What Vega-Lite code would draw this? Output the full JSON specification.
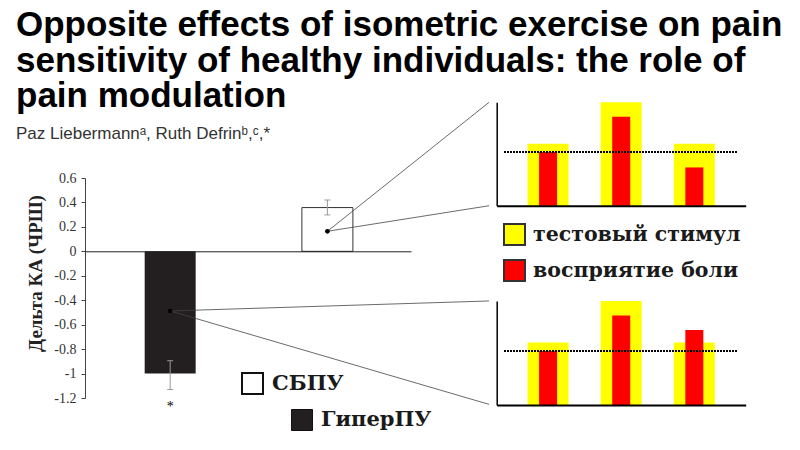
{
  "$schema": "https://vega.github.io/schema/vega-lite/v6.json",
  "width": 800,
  "height": 450,
  "autosize": "none",
  "padding": 0,
  "background": "white",
  "config": {"view": {"stroke": null}, "axis": {"grid": false}},
  "title": {
    "text": ["Opposite effects of isometric exercise on pain", "sensitivity of healthy individuals: the role of", "pain modulation"],
    "subtitle": "Paz Liebermannᵃ, Ruth Defrinᵇ,ᶜ,*",
    "anchor": "start",
    "frame": "group",
    "orient": "top",
    "offset": -142,
    "dx": 16,
    "font": "Liberation Sans",
    "fontSize": 35,
    "fontWeight": "bold",
    "lineHeight": 35.5,
    "color": "#000000",
    "subtitleFont": "Liberation Sans",
    "subtitleFontSize": 17,
    "subtitleColor": "#333333",
    "subtitlePadding": 12
  },
  "datasets": {
    "main": [
      {"group": "ГиперПУ", "i": 1, "delta": -1.0, "lo": -1.13, "hi": -0.895, "mid": -0.488, "sig": "*"},
      {"group": "СБПУ", "i": 2, "delta": 0.358, "lo": 0.298, "hi": 0.42, "mid": 0.164, "sig": ""}
    ],
    "links": [
      {"group": "СБПУ", "i": 2, "mid": 0.164, "i2": 3.028, "y2": 1.219},
      {"group": "СБПУ", "i": 2, "mid": 0.164, "i2": 3.028, "y2": 0.373},
      {"group": "ГиперПУ", "i": 1, "mid": -0.488, "i2": 3.028, "y2": -0.406},
      {"group": "ГиперПУ", "i": 1, "mid": -0.488, "i2": 3.028, "y2": -1.252}
    ],
    "inset": [
      {"panel": "СБПУ", "stim": 1, "measure": "тестовый стимул", "value": 6.0},
      {"panel": "СБПУ", "stim": 2, "measure": "тестовый стимул", "value": 10.0},
      {"panel": "СБПУ", "stim": 3, "measure": "тестовый стимул", "value": 6.0},
      {"panel": "СБПУ", "stim": 1, "measure": "восприятие боли", "value": 5.2},
      {"panel": "СБПУ", "stim": 2, "measure": "восприятие боли", "value": 8.6},
      {"panel": "СБПУ", "stim": 3, "measure": "восприятие боли", "value": 3.7},
      {"panel": "ГиперПУ", "stim": 1, "measure": "тестовый стимул", "value": 6.0},
      {"panel": "ГиперПУ", "stim": 2, "measure": "тестовый стимул", "value": 10.0},
      {"panel": "ГиперПУ", "stim": 3, "measure": "тестовый стимул", "value": 6.0},
      {"panel": "ГиперПУ", "stim": 1, "measure": "восприятие боли", "value": 5.2},
      {"panel": "ГиперПУ", "stim": 2, "measure": "восприятие боли", "value": 8.6},
      {"panel": "ГиперПУ", "stim": 3, "measure": "восприятие боли", "value": 7.2}
    ]
  },
  "layer": [
    {
      "data": {"name": "main"},
      "layer": [
        {
          "transform": [{"filter": "datum.group == 'ГиперПУ'"}],
          "mark": {"type": "bar", "size": 51, "orient": "vertical"},
          "encoding": {
            "x": {
              "field": "i", "type": "quantitative",
              "scale": {"domain": [0.49, 2.5], "range": [85, 411], "nice": false, "zero": false},
              "axis": {"orient": "bottom", "offset": -198.7, "labels": false, "ticks": false, "title": null, "domainColor": "#222222", "domainWidth": 1, "zindex": 1}
            },
            "y": {
              "field": "delta", "type": "quantitative",
              "scale": {"domain": [-1.2, 0.6], "range": [398, 178], "nice": false, "zero": false},
              "axis": {
                "orient": "left", "offset": -85,
                "values": [-1.2, -1, -0.8, -0.6, -0.4, -0.2, 0, 0.2, 0.4, 0.6],
                "labelExpr": "toString(datum.value)",
                "title": "Дельта КА (ЧРШ)",
                "titleFont": "Liberation Serif", "titleFontSize": 19, "titleFontWeight": "bold", "titleColor": "#222222",
                "titleX": -50, "titleY": 273, "titleAngle": 270, "titleAlign": "center", "titleBaseline": "middle",
                "labelFont": "Liberation Serif", "labelFontSize": 14, "labelColor": "#333333", "labelPadding": 5,
                "tickSize": 4, "tickColor": "#444444", "domainColor": "#444444", "grid": false
              }
            },
            "y2": {"datum": 0},
            "fill": {
              "field": "group", "type": "nominal",
              "scale": {"domain": ["ГиперПУ"], "range": ["#231f20"]},
              "legend": {"title": null, "orient": "none", "legendX": 291, "legendY": 409, "padding": 0, "symbolType": "square", "symbolSize": 441, "symbolStrokeColor": "#111111", "symbolStrokeWidth": 1, "labelFont": "DejaVu Serif", "labelFontWeight": "bold", "labelFontSize": 21, "labelColor": "#1a1a1a", "labelOffset": 8, "labelLimit": 0}
            }
          }
        },
        {
          "transform": [{"filter": "datum.group == 'СБПУ'"}],
          "mark": {"type": "bar", "size": 51, "orient": "vertical", "stroke": "#333333", "strokeWidth": 1},
          "encoding": {
            "x": {"field": "i", "type": "quantitative"},
            "y": {"field": "delta", "type": "quantitative"},
            "y2": {"datum": 0},
            "fill": {
              "field": "group", "type": "nominal",
              "scale": {"domain": ["СБПУ"], "range": ["#ffffff"]},
              "legend": {"title": null, "orient": "none", "legendX": 241, "legendY": 372, "padding": 0, "symbolType": "square", "symbolSize": 441, "symbolStrokeColor": "#111111", "symbolStrokeWidth": 2, "labelFont": "DejaVu Serif", "labelFontWeight": "bold", "labelFontSize": 21, "labelColor": "#1a1a1a", "labelOffset": 8, "labelLimit": 0}
            }
          }
        },
        {
          "mark": {"type": "rule", "color": "#999999", "strokeWidth": 1},
          "encoding": {
            "x": {"field": "i", "type": "quantitative"},
            "y": {"field": "lo", "type": "quantitative"},
            "y2": {"field": "hi"}
          }
        },
        {
          "mark": {"type": "tick", "orient": "horizontal", "size": 6, "thickness": 1, "color": "#999999", "opacity": 1},
          "encoding": {
            "x": {"field": "i", "type": "quantitative"},
            "y": {"field": "lo", "type": "quantitative"}
          }
        },
        {
          "mark": {"type": "tick", "orient": "horizontal", "size": 6, "thickness": 1, "color": "#999999", "opacity": 1},
          "encoding": {
            "x": {"field": "i", "type": "quantitative"},
            "y": {"field": "hi", "type": "quantitative"}
          }
        },
        {
          "transform": [{"filter": "datum.sig != ''"}],
          "mark": {"type": "text", "font": "Liberation Serif", "fontSize": 14, "fill": "#000000", "baseline": "alphabetic", "dy": 22},
          "encoding": {
            "x": {"field": "i", "type": "quantitative"},
            "y": {"field": "lo", "type": "quantitative"},
            "text": {"field": "sig"}
          }
        },
        {
          "data": {"name": "links"},
          "mark": {"type": "rule", "color": "#444444", "strokeWidth": 0.8},
          "encoding": {
            "x": {"field": "i", "type": "quantitative"},
            "y": {"field": "mid", "type": "quantitative"},
            "x2": {"field": "i2"},
            "y2": {"field": "y2"}
          }
        },
        {
          "mark": {"type": "circle", "size": 22, "color": "#000000", "opacity": 1},
          "encoding": {
            "x": {"field": "i", "type": "quantitative"},
            "y": {"field": "mid", "type": "quantitative"}
          }
        }
      ],
      "resolve": {"scale": {"fill": "independent"}, "legend": {"fill": "independent"}}
    },
    {
      "data": {"name": "inset"},
      "transform": [{"filter": "datum.panel == 'СБПУ'"}],
      "layer": [
        {
          "transform": [{"filter": "datum.measure == 'тестовый стимул'"}],
          "mark": {"type": "bar", "size": 41, "orient": "vertical"},
          "encoding": {
            "x": {
              "field": "stim", "type": "quantitative",
              "scale": {"domain": [0.366, 3.634], "range": [496.7, 745.7], "nice": false, "zero": false},
              "axis": {"orient": "bottom", "offset": -244.3, "labels": false, "ticks": false, "title": null, "domainColor": "#000000", "domainWidth": 2, "zindex": 1}
            },
            "y": {
              "field": "value", "type": "quantitative",
              "scale": {"domain": [0, 10], "range": [205.7, 102.3], "nice": false},
              "axis": {"orient": "left", "offset": -496.7, "labels": false, "ticks": false, "title": null, "domainColor": "#000000", "domainWidth": 1.5, "zindex": 1}
            },
            "y2": {"datum": 0},
            "fill": {
              "field": "measure", "type": "nominal",
              "scale": {"domain": ["тестовый стимул", "восприятие боли"], "range": ["#ffff00", "#ff0000"]},
              "legend": {"title": null, "orient": "none", "legendX": 503, "legendY": 223, "padding": 0, "direction": "vertical", "symbolType": "square", "symbolSize": 441, "symbolStrokeColor": "#333333", "symbolStrokeWidth": 2, "labelFont": "DejaVu Serif", "labelFontWeight": "bold", "labelFontSize": 20.5, "labelColor": "#1a1a1a", "labelOffset": 7, "labelLimit": 0, "rowPadding": 7}
            }
          }
        },
        {
          "transform": [{"filter": "datum.measure == 'восприятие боли'"}],
          "mark": {"type": "bar", "size": 18, "orient": "vertical"},
          "encoding": {
            "x": {"field": "stim", "type": "quantitative"},
            "y": {"field": "value", "type": "quantitative"},
            "y2": {"datum": 0},
            "fill": {"field": "measure", "type": "nominal"}
          }
        },
        {
          "mark": {"type": "rule", "color": "#000000", "strokeWidth": 1.5, "strokeDash": [1.5, 1.5]},
          "encoding": {
            "x": {"datum": 0.4, "type": "quantitative"},
            "x2": {"datum": 3.58},
            "y": {"datum": 5.2, "type": "quantitative"}
          }
        }
      ]
    },
    {
      "data": {"name": "inset"},
      "transform": [{"filter": "datum.panel == 'ГиперПУ'"}],
      "layer": [
        {
          "transform": [{"filter": "datum.measure == 'тестовый стимул'"}],
          "mark": {"type": "bar", "size": 41, "orient": "vertical", "color": "#ffff00"},
          "encoding": {
            "x": {
              "field": "stim", "type": "quantitative",
              "scale": {"domain": [0.366, 3.634], "range": [496.7, 745.7], "nice": false, "zero": false},
              "axis": {"orient": "bottom", "offset": -45, "labels": false, "ticks": false, "title": null, "domainColor": "#000000", "domainWidth": 2, "zindex": 1}
            },
            "y": {
              "field": "value", "type": "quantitative",
              "scale": {"domain": [0, 10], "range": [405, 301], "nice": false},
              "axis": {"orient": "left", "offset": -496.7, "labels": false, "ticks": false, "title": null, "domainColor": "#000000", "domainWidth": 1.5, "zindex": 1}
            },
            "y2": {"datum": 0}
          }
        },
        {
          "transform": [{"filter": "datum.measure == 'восприятие боли'"}],
          "mark": {"type": "bar", "size": 18, "orient": "vertical", "color": "#ff0000"},
          "encoding": {
            "x": {"field": "stim", "type": "quantitative"},
            "y": {"field": "value", "type": "quantitative"},
            "y2": {"datum": 0}
          }
        },
        {
          "mark": {"type": "rule", "color": "#000000", "strokeWidth": 1.5, "strokeDash": [1.5, 1.5]},
          "encoding": {
            "x": {"datum": 0.4, "type": "quantitative"},
            "x2": {"datum": 3.58},
            "y": {"datum": 5.2, "type": "quantitative"}
          }
        }
      ]
    }
  ],
  "resolve": {"scale": {"x": "independent", "y": "independent"}}
}
